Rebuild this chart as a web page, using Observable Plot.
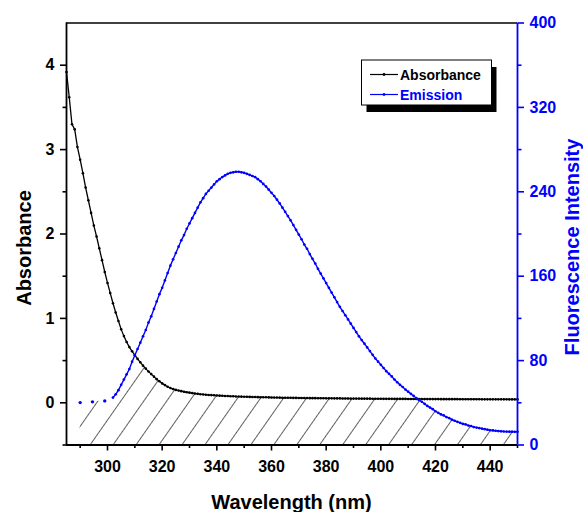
<!DOCTYPE html>
<html><head><meta charset="utf-8">
<script src="https://cdn.jsdelivr.net/npm/d3@7"></script>
<script src="https://cdn.jsdelivr.net/npm/@observablehq/plot@0.6"></script>
<style>
html,body{margin:0;padding:0;background:#fff;}
#chart{width:583px;height:512px;overflow:hidden;}
</style></head><body><div id="chart"></div>
<script>
// ---- data ----
const absStart = 285; // first wavelength of the absorbance series, 1 nm steps
const absorbance = [
  3.92,3.62,3.30,3.24,3.03,2.88,2.72,2.55,2.40,2.25,
  2.10,1.97,1.83,1.69,1.55,1.42,1.30,1.18,1.07,0.97,
  0.87,0.79,0.72,0.66,0.61,0.565,0.52,0.48,0.44,0.405,
  0.37,0.34,0.31,0.28,0.255,0.23,0.21,0.19,0.175,0.163,
  0.153,0.145,0.138,0.131,0.125,0.12,0.115,0.11,0.106,0.102,
  0.099,0.096,0.093,0.091,0.089,0.087,0.085,0.083,0.081,0.080,
  0.078,0.077,0.075,0.074,0.073,0.072,0.071,0.070,0.069,0.068,
  0.067,0.066,0.065,0.065,0.064,0.063,0.062,0.062,0.061,0.060,
  0.060,0.059,0.059,0.058,0.058,0.057,0.057,0.056,0.056,0.055,
  0.055,0.055,0.054,0.054,0.054,0.053,0.053,0.053,0.052,0.052,
  0.052,0.051,0.051,0.051,0.050,0.050,0.050,0.050,0.049,0.049,
  0.049,0.049,0.048,0.048,0.048,0.048,0.047,0.047,0.047,0.047,
  0.046,0.046,0.046,0.046,0.046,0.045,0.045,0.045,0.045,0.045,
  0.045,0.044,0.044,0.044,0.044,0.044,0.044,0.043,0.043,0.043,
  0.043,0.043,0.043,0.043,0.042,0.042,0.042,0.042,0.042,0.042,
  0.042,0.042,0.041,0.041,0.041,0.041,0.041,0.041,0.041,0.041,
  0.041,0.041,0.040,0.040,0.040,0.040
];
const emStart = 302; // first wavelength of the connected emission series, 1 nm steps
const emission = [
  45,48,52,57,62,67,72,79,85,91,
  97,103,109,116,122,129,136,143,149,156,
  163,170,176,182,188,194,199,205,210,215,
  220,225,230,234,238,241,244,247,250,252,
  254,255.5,257,258,258.5,259,259,258.5,258,257,
  256,255,254,252,250,247.5,245,242,239,236,
  232.5,229,225,221,217,213,208.5,204,199.5,195,
  190,186,181,176.5,172,167,162.5,158,153.5,149,
  144.5,140,135.5,131,127,123,119,115,111,107,
  103,99.5,96,92.5,89,85.5,82,79,76,73,
  70,67.5,65,62,59.5,57,55,52.5,50.5,48.5,
  46.5,44.5,42.5,41,39,37,35.5,34,32,30.5,
  29,28,26.5,25.5,24,23,22,21,20,19.5,
  18.5,18,17,16.5,16,15.5,15,14.5,14,13.8,
  13.5,13.2,13,12.8,12.7,12.6,12.6,12.5,12.5
];
const emDotsX = [290, 294.5, 299];   // isolated emission points
const emDotsY = [40.2, 40.9, 41.8];

const xDomain = [285, 450];
const absDomain = [-0.5, 4.5];
const emDomain = [0, 400];
const xTicks = [300, 320, 340, 360, 380, 400, 420, 440];
const xMinor = [290, 310, 330, 350, 370, 390, 410, 430, 450];
const absTicks = [0, 1, 2, 3, 4];
const absMinor = [-0.5, 0.5, 1.5, 2.5, 3.5];
const emTicks = [0, 80, 160, 240, 320, 400];
const emMinor = [40, 120, 200, 280, 360];
const seriesNames = ["Absorbance", "Emission"];
const xTitle = "Wavelength (nm)";
const yTitle = "Absorbance";
const y2Title = "Fluorescence Intensity";
const BLACK = "#000000", BLUE = "#0000ff";
const FONT = "'Liberation Sans', Arial, Helvetica, sans-serif";

// ---- second axis mapping (emission drawn on the absorbance scale) ----
const k = (absDomain[1] - absDomain[0]) / (emDomain[1] - emDomain[0]);
const emToAbs = v => absDomain[0] + (v - emDomain[0]) * k;
const absToEm = v => emDomain[0] + (v - absDomain[0]) / k;

const absData = absorbance.map((v, i) => ({x: absStart + i, y: v}));
const emData = emission.map((v, i) => ({x: emStart + i, y: emToAbs(v)}));
const dotData = emDotsX.map((x, i) => ({x, y: emToAbs(emDotsY[i])}));
const hatchData = dotData.concat(emData).map(d => {
  const a = absorbance[Math.round(d.x) - absStart];
  return {x: d.x, y: Math.min(a, d.y)};
});

const axisCommon = {fontSize: 16, fontWeight: "bold", label: null, strokeWidth: 1.6};

const plot = Plot.plot({
  width: 583, height: 512,
  marginLeft: 66, marginRight: 66, marginTop: 22.5, marginBottom: 67.5,
  x: {domain: xDomain},
  y: {domain: absDomain},
  style: {fontFamily: FONT, fontWeight: "bold", fontSize: "16px", background: "#fff", overflow: "visible"},
  marks: [
    Plot.areaY(hatchData, {x: "x", y1: absDomain[0], y2: "y", fill: "url(#hatch)"}),
    Plot.line(absData, {x: "x", y: "y", stroke: BLACK, strokeWidth: 1.3}),
    Plot.dot(absData, {x: "x", y: "y", r: 1.3, fill: BLACK, stroke: "none"}),
    Plot.line(emData, {x: "x", y: "y", stroke: BLUE, strokeWidth: 1.4}),
    Plot.dot(emData, {x: "x", y: "y", r: 1.35, fill: BLUE, stroke: "none"}),
    Plot.dot(dotData, {x: "x", y: "y", r: 1.7, fill: BLUE, stroke: "none"}),
    // axes
    Plot.axisX({...axisCommon, ticks: xTicks, tickSize: 6, tickPadding: 10, tickFormat: d => String(d)}),
    Plot.axisX({...axisCommon, ticks: xMinor, tickSize: 3.5, tickFormat: () => ""}),
    Plot.axisY({...axisCommon, ticks: absTicks, tickSize: 6, tickPadding: 6, tickFormat: d => String(d)}),
    Plot.axisY({...axisCommon, ticks: absMinor, tickSize: 3.5, tickFormat: () => ""}),
    Plot.axisY({...axisCommon, anchor: "right", ticks: emTicks.map(emToAbs), tickSize: 6, tickPadding: 6,
      tickFormat: d => String(Math.round(absToEm(d))), stroke: BLUE, fill: BLUE}),
    Plot.axisY({...axisCommon, anchor: "right", ticks: emMinor.map(emToAbs), tickSize: 3.5,
      tickFormat: () => "", stroke: BLUE}),
    // frame
    Plot.ruleY([absDomain[1]], {stroke: BLACK, strokeWidth: 1.6}),
    Plot.ruleY([absDomain[0]], {stroke: BLACK, strokeWidth: 1.8}),
    Plot.ruleX([xDomain[0]], {stroke: BLACK, strokeWidth: 1.8}),
    Plot.ruleX([xDomain[1]], {stroke: BLUE, strokeWidth: 1.8})
  ]
});

const svg = d3.select(plot);
// hatch pattern
const pat = svg.insert("defs", ":first-child").append("pattern")
  .attr("id", "hatch").attr("patternUnits", "userSpaceOnUse")
  .attr("width", 18.8).attr("height", 10).attr("patternTransform", "rotate(35)");
pat.append("line").attr("x1", 9.4).attr("y1", -1).attr("x2", 9.4).attr("y2", 11)
  .attr("stroke", "#444").attr("stroke-width", 0.85);

// axis titles
svg.append("text").text(xTitle)
  .attr("x", 291.5).attr("y", 509).attr("text-anchor", "middle")
  .attr("font-family", FONT).attr("font-weight", "bold").attr("font-size", 20).attr("fill", BLACK);
svg.append("text").text(yTitle)
  .attr("transform", "translate(31,248) rotate(-90)").attr("text-anchor", "middle")
  .attr("font-family", FONT).attr("font-weight", "bold").attr("font-size", 20).attr("fill", BLACK);
svg.append("text").text(y2Title)
  .attr("transform", "translate(579,247) rotate(-90)").attr("text-anchor", "middle")
  .attr("font-family", FONT).attr("font-weight", "bold").attr("font-size", 20).attr("fill", BLUE);

// legend
const lg = svg.append("g").attr("text-anchor", "start");
const bx = 361.5, by = 60, bw = 130, bh = 45;
lg.append("rect").attr("x", bx + 5).attr("y", by + 7).attr("width", bw).attr("height", bh).attr("fill", BLACK);
lg.append("rect").attr("x", bx).attr("y", by).attr("width", bw).attr("height", bh)
  .attr("fill", "#fff").attr("stroke", BLACK).attr("stroke-width", 1);
const legendColors = [BLACK, BLUE];
seriesNames.forEach((name, i) => {
  const yy = by + 14.5 + i * 20;
  lg.append("line").attr("x1", bx + 8.5).attr("x2", bx + 36.5).attr("y1", yy).attr("y2", yy)
    .attr("stroke", legendColors[i]).attr("stroke-width", 1.2);
  lg.append("circle").attr("cx", bx + 22.5).attr("cy", yy).attr("r", 1.4).attr("fill", legendColors[i]);
  lg.append("text").text(name).attr("x", bx + 38.5).attr("y", yy).attr("dy", "0.36em")
    .attr("text-anchor", "start")
    .attr("font-family", FONT).attr("font-weight", "bold").attr("font-size", 14).attr("fill", legendColors[i]);
});

document.getElementById("chart").appendChild(plot);
</script>
</body></html>
